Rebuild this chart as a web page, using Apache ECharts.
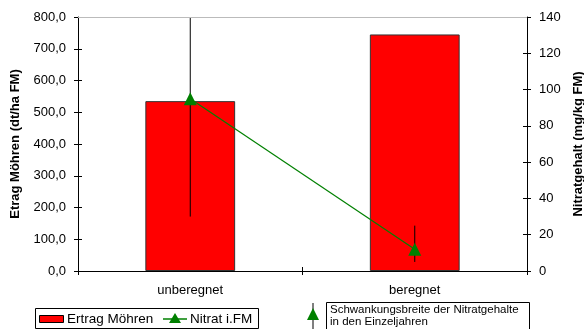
<!DOCTYPE html>
<html><head><meta charset="utf-8">
<script src="https://cdn.jsdelivr.net/npm/echarts@6/dist/echarts.min.js"></script>
<style>html,body{margin:0;padding:0;background:#fff}#c{width:584px;height:329px}</style>
</head><body><div id="c"></div>
<script>
const categories = ['unberegnet', 'beregnet'];
const ertrag = [535, 745];
const nitrat = [95, 12];
const nitratMin = [30, 5];
const nitratMax = [140, 25];

const chart = echarts.init(document.getElementById('c'));
const F = 'Liberation Sans, Arial, sans-serif';
const blackLine = { color: '#000', width: 1 };
chart.setOption({
  animation: false,
  textStyle: { fontFamily: F },
  grid: { left: 78, right: 57, top: 17, bottom: 58, containLabel: false, outerBoundsMode: 'none' },
  xAxis: [{
    type: 'category', data: categories, offset: 0,
    axisLine: { lineStyle: blackLine },
    axisTick: { show: true, length: 4, lineStyle: blackLine },
    axisLabel: { color: '#000', fontSize: 13, fontFamily: F, margin: 13 }
  }, {
    type: 'category', data: categories, position: 'bottom', offset: 0,
    axisLine: { show: false },
    axisTick: { show: true, inside: true, length: 4, lineStyle: blackLine },
    axisLabel: { show: false }
  }],
  yAxis: [{
    type: 'value', min: 0, max: 800, interval: 100, position: 'left', offset: 0,
    name: 'Etrag Möhren (dt/ha FM)', nameLocation: 'middle', nameGap: 56, nameRotate: 90,
    nameTextStyle: { fontWeight: 'bold', fontSize: 13, color: '#000', fontFamily: F },
    axisLine: { show: true, lineStyle: blackLine },
    axisTick: { show: true, length: 4, lineStyle: blackLine },
    axisLabel: { color: '#000', fontSize: 13, fontFamily: F, margin: 12,
      formatter: v => v.toFixed(1).replace('.', ',') },
    splitLine: { show: false }
  }, {
    type: 'value', min: 0, max: 140, interval: 20, position: 'right', offset: 0,
    name: 'Nitratgehalt (mg/kg FM)', nameLocation: 'middle', nameGap: 44, nameRotate: 90,
    nameTextStyle: { fontWeight: 'bold', fontSize: 13, color: '#000', fontFamily: F },
    axisLine: { show: true, lineStyle: blackLine },
    axisTick: { show: true, length: 4, lineStyle: blackLine },
    axisLabel: { color: '#000', fontSize: 13, fontFamily: F, margin: 12 },
    splitLine: { show: false }
  }, {
    type: 'value', min: 0, max: 800, interval: 100, position: 'left', offset: 0,
    axisLine: { show: false }, axisLabel: { show: false }, splitLine: { show: false },
    axisTick: { show: true, inside: true, length: 4, lineStyle: blackLine }
  }, {
    type: 'value', min: 0, max: 140, interval: 20, position: 'right', offset: 0,
    axisLine: { show: false }, axisLabel: { show: false }, splitLine: { show: false },
    axisTick: { show: true, inside: true, length: 4, lineStyle: blackLine }
  }],
  legend: { show: false },
  series: [{
    name: 'Ertrag Möhren', type: 'bar', data: ertrag, barWidth: '40%',
    itemStyle: { color: '#ff0000', borderColor: '#333', borderWidth: 1 },
    markLine: { silent: true, symbol: 'none', label: { show: false },
      lineStyle: { color: '#bbb', type: 'solid', width: 1 }, data: [{ yAxis: 800 }] }
  }, {
    name: 'Schwankung', type: 'custom', yAxisIndex: 1,
    data: categories.map((c, i) => [i, nitratMin[i], nitratMax[i]]),
    renderItem: (params, api) => {
      const lo = api.coord([api.value(0), api.value(1)]);
      const hi = api.coord([api.value(0), api.value(2)]);
      return { type: 'line', shape: { x1: lo[0], y1: lo[1], x2: hi[0], y2: hi[1] },
        style: { stroke: '#000', lineWidth: 1 } };
    }, z: 3
  }, {
    name: 'Nitrat i.FM', type: 'line', yAxisIndex: 1, data: nitrat,
    symbol: 'triangle', symbolSize: 13,
    itemStyle: { color: '#008000' }, lineStyle: { color: '#008000', width: 1.2 }, z: 4
  }],
  graphic: [
    { type: 'rect', shape: { x: 35.5, y: 308.5, width: 223, height: 20 }, style: { fill: '#fff', stroke: '#000', lineWidth: 1 } },
    { type: 'rect', shape: { x: 39.5, y: 315.5, width: 24, height: 7 }, style: { fill: '#ff0000', stroke: '#000', lineWidth: 1 } },
    { type: 'text', style: { x: 67, y: 319, text: 'Ertrag Möhren', fill: '#000', font: '13.5px ' + F, verticalAlign: 'middle' } },
    { type: 'line', shape: { x1: 163, y1: 319, x2: 187, y2: 319 }, style: { stroke: '#008000', lineWidth: 1.5 } },
    { type: 'polygon', shape: { points: [[175, 313], [169, 323], [181, 323]] }, style: { fill: '#008000' } },
    { type: 'text', style: { x: 190, y: 319, text: 'Nitrat i.FM', fill: '#000', font: '13.5px ' + F, verticalAlign: 'middle' } },
    { type: 'line', shape: { x1: 313, y1: 303, x2: 313, y2: 329 }, style: { stroke: '#000', lineWidth: 1 } },
    { type: 'polygon', shape: { points: [[313, 308], [307, 320], [319, 320]] }, style: { fill: '#008000' } },
    { type: 'rect', shape: { x: 326.5, y: 302.5, width: 203, height: 28 }, style: { fill: '#fff', stroke: '#000', lineWidth: 1 } },
    { type: 'text', style: { x: 330, y: 304, text: 'Schwankungsbreite der Nitratgehalte\nin den Einzeljahren', fill: '#000', font: '11.5px ' + F, lineHeight: 12 } }
  ]
});
</script></body></html>
